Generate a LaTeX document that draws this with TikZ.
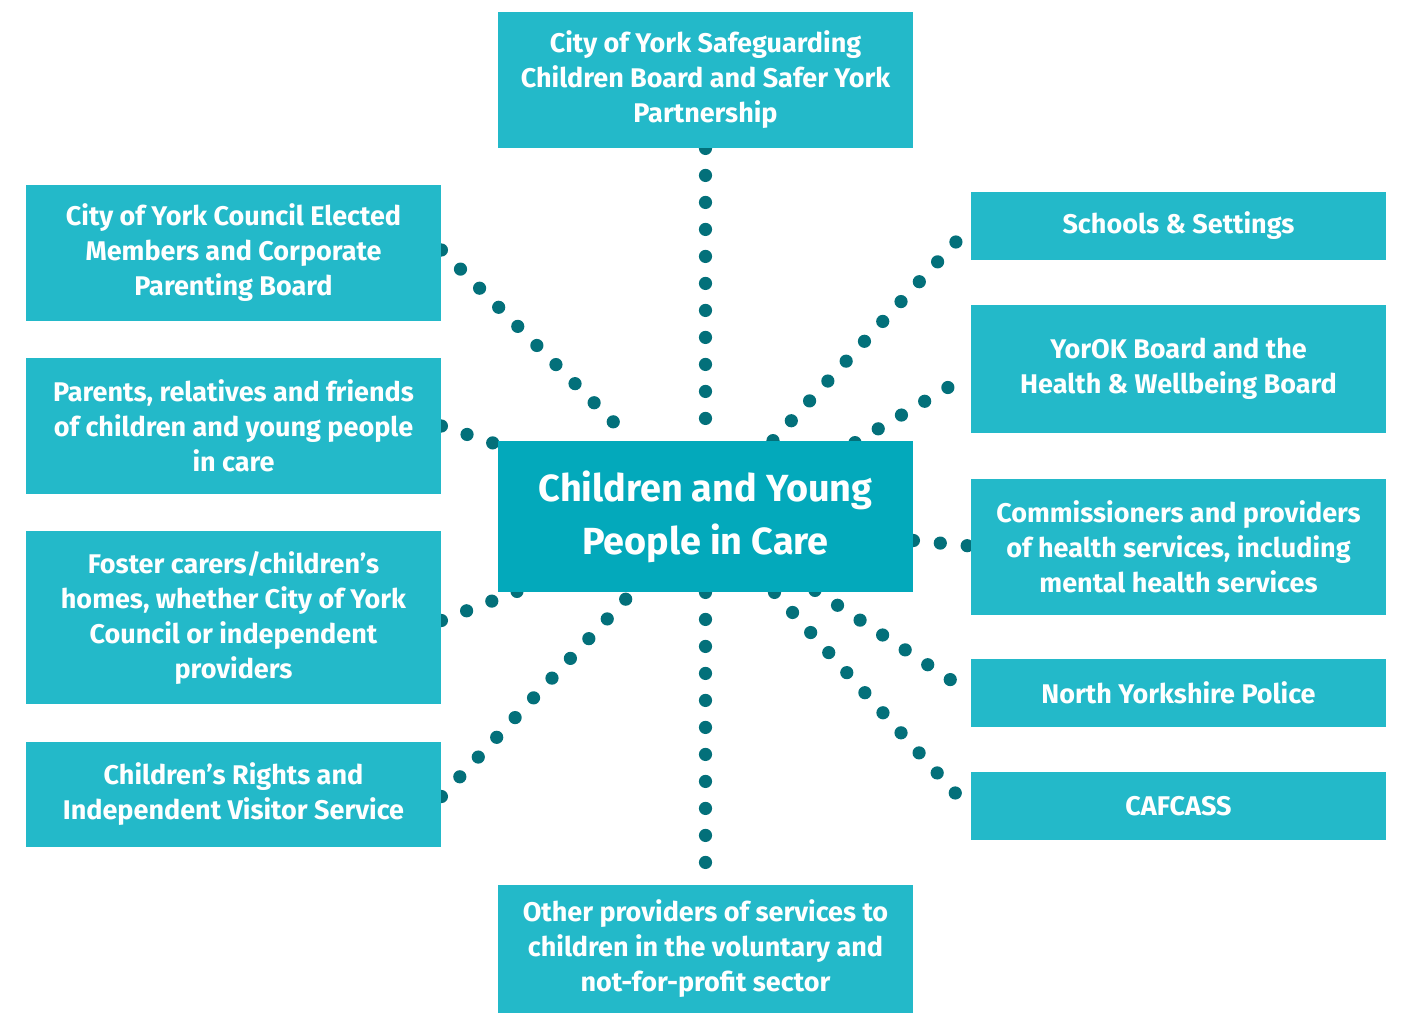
\documentclass[tikz,border=0pt]{standalone}
\usepackage{fontspec}
\setmainfont{Fira Sans}
\usetikzlibrary{calc}
\pgfdeclarelayer{bg}
\pgfsetlayers{bg,main}
\definecolor{boxc}{HTML}{23B9C9}
\definecolor{cenc}{HTML}{03A9BB}
\definecolor{dotc}{HTML}{03707A}
\tikzset{
  box/.style={fill=boxc, text=white, minimum width=207.5pt, align=center, inner sep=0pt,
    font=\bfseries\fontsize{13.5}{17.5}\selectfont},
  cbox/.style={fill=cenc, text=white, minimum width=207.5pt, minimum height=75.5pt, align=center, inner sep=0pt,
    font=\bfseries\fontsize{18.9}{26.5}\selectfont},
  link/.style={draw=dotc, line width=6.6pt, line cap=round, dash pattern=on 0pt off 13.5pt}
}
\begin{document}
\begin{tikzpicture}[x=0.5pt,y=-0.5pt]
\useasboundingbox (0,0) rectangle (1401,1014);
\node[box, minimum height=68pt] (T) at (705.5,80) {City of York Safeguarding\\Children Board and Safer York\\Partnership};
\node[box, minimum height=68pt] (L1) at (233.5,253) {City of York Council Elected\\Members and Corporate\\Parenting Board};
\node[box, minimum height=68pt] (L2) at (233.5,426) {Parents, relatives and friends\\of children and young people\\in care};
\node[box, minimum height=86.5pt] (L3) at (233.5,617.5) {Foster carers/children’s\\homes, whether City of York\\Council or independent\\providers};
\node[box, minimum height=52.5pt] (L4) at (233.5,794.5) {Children’s Rights and\\Independent Visitor Service};
\node[box, minimum height=64pt] (B) at (705.5,949) {Other providers of services to\\children in the voluntary and\\not-for-profit sector};
\node[box, minimum height=34pt] (R1) at (1178.5,226) {Schools \& Settings};
\node[box, minimum height=64pt] (R2) at (1178.5,369) {YorOK Board and the\\Health \& Wellbeing Board};
\node[box, minimum height=68pt] (R3) at (1178.5,547) {Commissioners and providers\\of health services, including\\mental health services};
\node[box, minimum height=34pt] (R4) at (1178.5,693) {North Yorkshire Police};
\node[box, minimum height=34pt] (R5) at (1178.5,806) {CAFCASS};
\node[cbox] (C) at (705.5,516.5) {Children and Young\\People in Care};
\begin{pgfonlayer}{bg}
\draw[link] (T.south) -- (C.north);
\draw[link] (C.south) -- (B.north);
\draw[link] ($(L1.east)+(0,-3)$) -- ($(C.north)+(-73.5,0)$);
\draw[link] (L2.east) -- ($(C.west)+(0,-72)$);
\draw[link] ($(L3.east)+(0,3)$) -- ($(C.south west)+(22,-2)$);
\draw[link] ($(L4.east)+(0,2)$) -- ($(C.south)+(-73.5,0)$);
\draw[link] ($(C.north)+(67.5,0)$) -- (R1.west);
\draw[link] ($(C.north)+(149.5,2)$) -- ($(R2.west)+(0,5)$);
\draw[link] ($(C.east)+(0,24)$) -- ($(R3.west)+(0,-1)$);
\draw[link] ($(C.south)+(109.5,-2)$) -- (R4.west);
\draw[link] ($(C.south)+(69,0)$) -- ($(R5.west)+(0,4)$);
\end{pgfonlayer}
\end{tikzpicture}
\end{document}
